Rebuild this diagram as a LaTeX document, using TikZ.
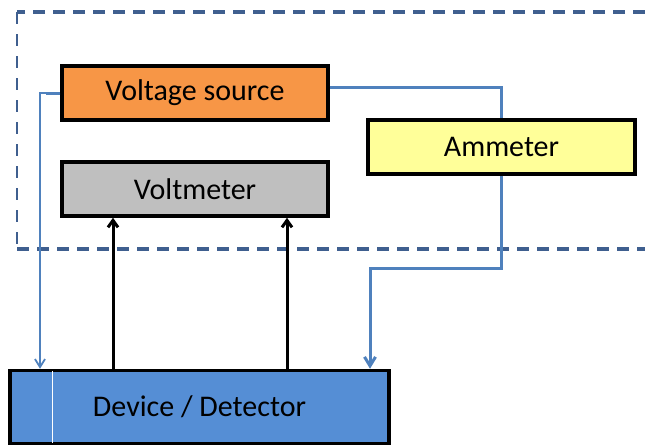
\documentclass[tikz,border=0pt]{standalone}
\usepackage{fontspec}
\setmainfont{Carlito}
\usetikzlibrary{arrows.meta}
\definecolor{srcorange}{HTML}{F79646}
\definecolor{metergray}{HTML}{BFBFBF}
\definecolor{ampyellow}{HTML}{FFFF99}
\definecolor{devblue}{HTML}{558ED5}
\definecolor{wireblue}{HTML}{4F81BD}
\definecolor{frameblue}{HTML}{3F5F8F}
\tikzset{
  box/.style={draw=black, line width=3.5pt, minimum height=54pt, inner sep=0pt, font=\fontsize{30}{34}\selectfont},
  wire/.style={draw=wireblue, line width=3pt},
  thinwire/.style={draw=wireblue, line width=1.8pt},
  sense/.style={draw=black, line width=3pt, -{Straight Barb[length=7pt,width=10pt]}},
  frame/.style={draw=frameblue, line width=3.5pt, dash pattern=on 12pt off 8pt}
}
\begin{document}
\begin{tikzpicture}[x=1pt,y=-1pt]
\useasboundingbox (0,0) rectangle (645,445);
% instrument enclosure, open to the right
\draw[frame] (645,12) -- (17,12);
\draw[frame, line width=1.8pt, dash pattern=on 12pt off 10pt] (17,12) -- (17,249);
\draw[frame] (17,249) -- (645,249);
% instruments
\node[box, fill=srcorange, minimum width=266pt] (vs) at (195,93) {Voltage source};
\node[box, fill=metergray, minimum width=266pt] (vm) at (195,189) {Voltmeter};
\node[box, fill=ampyellow, minimum width=267pt] (am) at (501.5,147) {Ammeter};
\node[box, fill=devblue, minimum width=379pt, minimum height=73pt] (dev) at (199.5,407) {Device / Detector};
% faint light seam inside the device box
\draw[white, line width=0.8pt] ([yshift=-2pt]dev.north -| 52,0) -- ([yshift=2pt]dev.south -| 52,0);
% wiring
\coordinate (vsl) at (vs.west |- 0,93);
\coordinate (vsr) at (vs.east |- 0,87);
\coordinate (lc) at (40,93);
\draw[wire] (vsl) -- ++(-14,0);
\draw[thinwire, -{Straight Barb[length=8pt,width=10pt]}] (vsl) -- (lc) -- (lc |- dev.north);
\draw[wire] (vsr) -| (am.north);
\coordinate (turn) at (am.south |- 0,268);
\coordinate (drop) at (370,268);
\draw[wire, -{Straight Barb[length=9pt,width=11pt]}] (am.south) -- (turn) -- (drop) -- (drop |- dev.north);
% voltage sense leads
\draw[sense] (dev.north -| 113,0) -- (vm.south -| 113,0);
\draw[sense] (dev.north -| 287,0) -- (vm.south -| 287,0);
\end{tikzpicture}
\end{document}
